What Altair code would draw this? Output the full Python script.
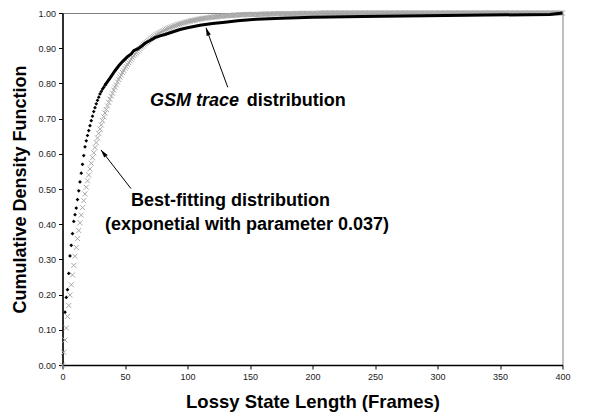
import altair as alt
import pandas as pd

# Best-fitting exponential CDF (gray x marks), one value per frame starting at 0
fit_cdf = [
    0.000, 0.036, 0.071, 0.105, 0.138, 0.169, 0.199, 0.228, 0.256, 0.283,
    0.309, 0.334, 0.359, 0.382, 0.404, 0.426, 0.447, 0.467, 0.486, 0.505,
    0.523, 0.540, 0.557, 0.573, 0.589, 0.603, 0.618, 0.632, 0.645, 0.658,
    0.670, 0.682, 0.694, 0.705, 0.716, 0.726, 0.736, 0.746, 0.755, 0.764,
    0.772, 0.781, 0.789, 0.796, 0.804, 0.811, 0.818, 0.824, 0.831, 0.837,
    0.843, 0.848, 0.854, 0.859, 0.864, 0.869, 0.874, 0.879, 0.883, 0.887,
    0.891, 0.895, 0.899, 0.903, 0.906, 0.910, 0.913, 0.916, 0.919, 0.922,
    0.925, 0.928, 0.930, 0.933, 0.935, 0.938, 0.940, 0.942, 0.944, 0.946,
    0.948, 0.950, 0.952, 0.954, 0.955, 0.957, 0.958, 0.960, 0.961, 0.963,
    0.964, 0.965, 0.967, 0.968, 0.969, 0.970, 0.971, 0.972, 0.973, 0.974,
    0.975, 0.976, 0.977, 0.978, 0.979, 0.979, 0.980, 0.981, 0.982, 0.982,
    0.983, 0.984, 0.984, 0.985, 0.985, 0.986, 0.986, 0.987, 0.987, 0.988,
    0.988, 0.989, 0.989, 0.989, 0.990, 0.990, 0.991, 0.991, 0.991, 0.992,
    0.992, 0.992, 0.992, 0.993, 0.993, 0.993, 0.993, 0.994, 0.994, 0.994,
    0.994, 0.995, 0.995, 0.995, 0.995, 0.995, 0.995, 0.996, 0.996, 0.996,
    0.996, 0.996, 0.996, 0.996, 0.996, 0.996, 0.996, 0.996, 0.996, 0.997,
    0.997, 0.997, 0.997, 0.997, 0.997, 0.997, 0.997, 0.997, 0.997, 0.998,
    0.998, 0.998, 0.998, 0.998, 0.998, 0.998, 0.998, 0.998, 0.998, 0.998,
    0.998, 0.998, 0.998, 0.998, 0.998, 0.998, 0.998, 0.999, 0.999, 0.999,
    0.999, 0.999, 0.999, 0.999, 0.999, 0.999, 0.999, 0.999, 0.999, 0.999,
    0.999, 0.999, 0.999, 0.999, 0.999, 0.999,
    1.0, 1.0, 1.0, 1.0, 1.0, 1.0, 1.0, 1.0, 1.0, 1.0, 1.0, 1.0, 1.0, 1.0, 1.0,
    1.0, 1.0, 1.0, 1.0, 1.0, 1.0, 1.0, 1.0, 1.0, 1.0, 1.0, 1.0, 1.0, 1.0, 1.0,
    1.0, 1.0, 1.0, 1.0, 1.0, 1.0, 1.0, 1.0, 1.0, 1.0, 1.0, 1.0, 1.0, 1.0, 1.0,
    1.0, 1.0, 1.0, 1.0, 1.0, 1.0, 1.0, 1.0, 1.0, 1.0, 1.0, 1.0, 1.0, 1.0, 1.0,
    1.0, 1.0, 1.0, 1.0, 1.0, 1.0, 1.0, 1.0, 1.0, 1.0, 1.0, 1.0, 1.0, 1.0, 1.0,
    1.0, 1.0, 1.0, 1.0, 1.0, 1.0, 1.0, 1.0, 1.0, 1.0, 1.0, 1.0, 1.0, 1.0, 1.0,
    1.0, 1.0, 1.0, 1.0, 1.0, 1.0, 1.0, 1.0, 1.0, 1.0, 1.0, 1.0, 1.0, 1.0, 1.0,
    1.0, 1.0, 1.0, 1.0, 1.0, 1.0, 1.0, 1.0, 1.0, 1.0, 1.0, 1.0, 1.0, 1.0, 1.0,
    1.0, 1.0, 1.0, 1.0, 1.0, 1.0, 1.0, 1.0, 1.0, 1.0, 1.0, 1.0, 1.0, 1.0, 1.0,
    1.0, 1.0, 1.0, 1.0, 1.0, 1.0, 1.0, 1.0, 1.0, 1.0, 1.0, 1.0, 1.0, 1.0, 1.0,
    1.0, 1.0, 1.0, 1.0, 1.0, 1.0, 1.0, 1.0, 1.0, 1.0, 1.0, 1.0, 1.0, 1.0, 1.0,
    1.0, 1.0, 1.0, 1.0, 1.0, 1.0, 1.0, 1.0, 1.0, 1.0, 1.0, 1.0, 1.0, 1.0, 1.0,
    1.0, 1.0, 1.0, 1.0, 1.0, 1.0, 1.0, 1.0, 1.0, 1.0, 1.0, 1.0, 1.0, 1.0, 1.0,
]
fit_frames = list(range(len(fit_cdf)))

# GSM trace CDF: individually visible dots at small lengths
trace_dot_frames = [2, 3, 4, 5, 6, 7, 8, 9, 10, 11, 12, 13, 14, 15, 16, 17, 18,
                    19, 20, 21, 22, 23, 24, 25, 26, 27, 28, 29, 30, 31, 32, 33, 34]
trace_dot_cdf = [0.150, 0.192, 0.214, 0.260, 0.310, 0.340, 0.373, 0.408, 0.427,
                 0.446, 0.470, 0.495, 0.520, 0.545, 0.570, 0.595, 0.620, 0.637,
                 0.652, 0.666, 0.680, 0.694, 0.707, 0.720, 0.731, 0.742, 0.752,
                 0.761, 0.770, 0.777, 0.784, 0.789, 0.795]

# GSM trace CDF: dense part (dots merge into a thick line)
trace_line_frames = [34, 38, 42, 45, 48, 52, 55, 57, 60, 63, 66, 70, 74, 78, 82,
                     88, 94, 100, 110, 120, 130, 140, 155, 175, 200, 240, 290,
                     340, 390, 400]
trace_line_cdf = [0.795, 0.815, 0.836, 0.850, 0.862, 0.876, 0.884, 0.893, 0.898,
                  0.905, 0.914, 0.922, 0.930, 0.935, 0.939, 0.946, 0.953, 0.958,
                  0.965, 0.970, 0.974, 0.978, 0.982, 0.985, 0.988, 0.990, 0.992,
                  0.994, 0.996, 1.000]

x_ticks = [0, 50, 100, 150, 200, 250, 300, 350, 400]
y_ticks = [0.0, 0.1, 0.2, 0.3, 0.4, 0.5, 0.6, 0.7, 0.8, 0.9, 1.0]

# Annotations (data coordinates)
arrow_x = [132.2, 54.8]
arrow_y = [0.789, 0.501]
arrow_x2 = [114.8, 30.8]
arrow_y2 = [0.958, 0.611]
arrow_angle = [340, 322]

FONT = "Liberation Sans"

df_fit = pd.DataFrame({"x": fit_frames, "y": fit_cdf})
df_dots = pd.DataFrame({"x": trace_dot_frames, "y": trace_dot_cdf})
df_line = pd.DataFrame({"x": trace_line_frames, "y": trace_line_cdf})
df_arrow = pd.DataFrame({"x": arrow_x, "y": arrow_y, "x2": arrow_x2, "y2": arrow_y2})
df_head = pd.DataFrame({"x": arrow_x2, "y": arrow_y2, "angle": arrow_angle})

xscale = alt.Scale(domain=[0, 400], nice=False, zero=False)
yscale = alt.Scale(domain=[0, 1], nice=False)

xaxis = alt.Axis(
    title="Lossy State Length (Frames)", values=x_ticks, grid=False,
    tickSize=4, tickColor="black", domainColor="black", domainWidth=1.5,
    labelFont=FONT, labelFontSize=9, labelColor="#1a1a1a", labelPadding=3,
    labelFlush=False, labelOverlap=False,
    titleFont=FONT, titleFontSize=18.5, titleFontWeight="bold", titleColor="black",
    titleX=250, titleY=36, titleBaseline="middle", titleAlign="center",
)
yaxis = alt.Axis(
    title="Cumulative Density Function", values=y_ticks, format=".2f", grid=False,
    tickSize=4, tickColor="black", domainColor="black", domainWidth=1.5,
    labelFont=FONT, labelFontSize=9, labelColor="#1a1a1a", labelPadding=3,
    labelFlush=False, labelOverlap=False,
    titleFont=FONT, titleFontSize=18, titleFontWeight="bold", titleColor="black",
    titleX=-42, titleY=176, titleAngle=-90, titleBaseline="middle", titleAlign="center",
)

X = alt.X("x:Q", scale=xscale, axis=xaxis)
Y = alt.Y("y:Q", scale=yscale, axis=yaxis)

fit_layer = alt.Chart(df_fit).mark_point(
    shape="M-1,-1L1,1M-1,1L1,-1", filled=False, stroke="#a8a8a8",
    strokeWidth=1, size=25, opacity=1,
).encode(x=X, y=Y)

line_layer = alt.Chart(df_line).mark_line(color="black", strokeWidth=3).encode(x=X, y=Y)

dot_layer = alt.Chart(df_dots).mark_point(
    shape="diamond", filled=True, color="black", size=14, opacity=1
).encode(x=X, y=Y)

arrow_layer = alt.Chart(df_arrow).mark_rule(color="black", strokeWidth=1).encode(
    x=X, y=Y, x2="x2:Q", y2="y2:Q"
)

head_layer = alt.Chart(df_head).mark_point(
    shape="M0,0L-0.55,2L0.55,2Z", filled=True, color="black", size=64, opacity=1
).encode(x=X, y=Y, angle=alt.Angle("angle:Q", scale=None))

def label(txt, xv, yv, style="normal"):
    d = pd.DataFrame({"x": [xv], "y": [yv], "t": [txt]})
    return alt.Chart(d).mark_text(
        font=FONT, fontSize=18, fontWeight="bold", fontStyle=style,
        align="left", baseline="middle", color="black",
    ).encode(x=X, y=Y, text="t:N")

t1 = label("GSM trace", 70, 0.751, "italic")
t2 = label("distribution", 147.4, 0.751)
t3 = label("Best-fitting distribution", 54.8, 0.465)
t4 = label("(exponetial with parameter 0.037)", 34, 0.399)

chart = alt.layer(
    fit_layer, dot_layer, line_layer, arrow_layer, head_layer, t1, t2, t3, t4
).properties(
    width=500, height=352,
    autosize=alt.AutoSizeParams(type="none"),
    padding={"left": 54.5, "top": 5, "right": 30, "bottom": 52},
).configure_view(stroke="#808080", strokeWidth=1)

chart.save("out.html", embed_options={"renderer": "svg", "actions": False})
